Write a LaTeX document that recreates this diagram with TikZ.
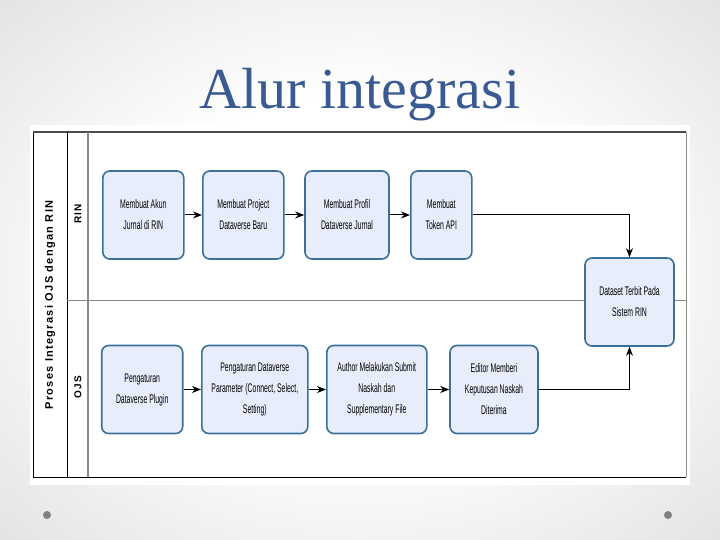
\documentclass[tikz,border=0pt]{standalone}
\usepackage{fontspec}
\setmainfont{Liberation Serif}
\setsansfont{Liberation Sans}
\newfontfamily\narrowfont[FakeStretch=0.55]{Liberation Sans}
\newfontfamily\lanefont[LetterSpace=12]{Liberation Sans}
\usetikzlibrary{arrows.meta,positioning,calc}
\definecolor{titleblue}{HTML}{3A5A93}
\definecolor{boxfill}{HTML}{E7EDFA}
\definecolor{boxline}{HTML}{3B7199}
\definecolor{laneline}{HTML}{8A8A8A}
\pgfdeclareradialshading{slidebg}{\pgfpoint{0bp}{0bp}}{color(0bp)=(white); color(16bp)=(white); color(36bp)=(black!11); color(50bp)=(black!19); color(72bp)=(black!25)}
\begin{document}
\begin{tikzpicture}[x=1pt,y=-1pt,
		task/.style={draw=boxline, fill=boxfill, line width=1.6pt, rounded corners=7pt, align=center,
			minimum height=88pt, inner sep=2pt, font=\narrowfont\fontsize{12.5}{21}\selectfont},
		flow/.style={line width=1pt, -{Stealth[length=9pt,width=7pt]}},
		lanelabel/.style={rotate=90, font=\lanefont\bfseries\fontsize{10}{12}\selectfont}]
		\useasboundingbox (0,0) rectangle (720,540);
		\shade[shading=slidebg] (0,0) rectangle (720,540);
		\fill[white] (30,125) rectangle (690,485);
		\node [titleblue, font=\fontsize{58}{60}\selectfont] (title) at (360,95) {Alur integrasi};
		\fill [gray] (47,515) circle (4) (668,515) circle (4);
		% pool and lanes
		\draw [line width=0.8pt] (686,132) -- (33,132) -- (33,477) -- (686,477);
		\draw [line width=1.6pt, black!70] (33,132) -- (686,132);
		\draw [line width=0.5pt, laneline] (686,132) -- (686,477);
		\draw [line width=0.8pt] (67,132) -- (67,477);
		\draw [line width=1.2pt, laneline] (88,132) -- (88,477);
		\draw [line width=0.8pt, laneline] (67,300) -- (686,300);
		\node [lanelabel, font=\lanefont\bfseries\fontsize{11}{12}\selectfont] (pool) at (50,305) {Proses Integrasi OJS dengan RIN};
		\node [lanelabel] (rin) at (78,214) {RIN};
		\node [lanelabel] (ojs) at (78,387) {OJS};
		% RIN
		\node [task, minimum width=81pt] (akun) at (143.3,215) {Membuat Akun\\Jurnal di RIN};
		\node [task, minimum width=81pt] (project) at (243.3,215) {Membuat Project\\Dataverse Baru};
		\node [task, minimum width=84pt] (profil) at (347,215) {Membuat Profil\\Dataverse Jurnal};
		\node [task, minimum width=61pt] (token) at (441.3,215) {Membuat\\Token API};
		\node [task, minimum width=89pt] (terbit) at (629.5,302) {Dataset Terbit Pada\\Sistem RIN};
		% OJS
		\node [task, minimum width=81pt] (plugin) at (142.2,389.5) {Pengaturan\\Dataverse Plugin};
		\node [task, minimum width=106pt] (param) at (254.8,389.5) {Pengaturan Dataverse\\Parameter (Connect, Select,\\Setting)};
		\node [task, minimum width=100pt] (submit) at (376.8,389.5) {Author Melakukan Submit\\Naskah dan\\Supplementary File};
		\node [task, minimum width=88pt] (editor) at (494,389.5) {Editor Memberi\\Keputusan Naskah\\Diterima};
		\draw [flow] (akun) -- (project);
		\draw [flow] (project) -- (profil);
		\draw [flow] (profil) -- (token);
		\draw [flow] (token) -| (terbit);
		\draw [flow] (plugin) -- (param);
		\draw [flow] (param) -- (submit);
		\draw [flow] (submit) -- (editor);
		\draw [flow] (editor) -| (terbit);
\end{tikzpicture}
\end{document}
